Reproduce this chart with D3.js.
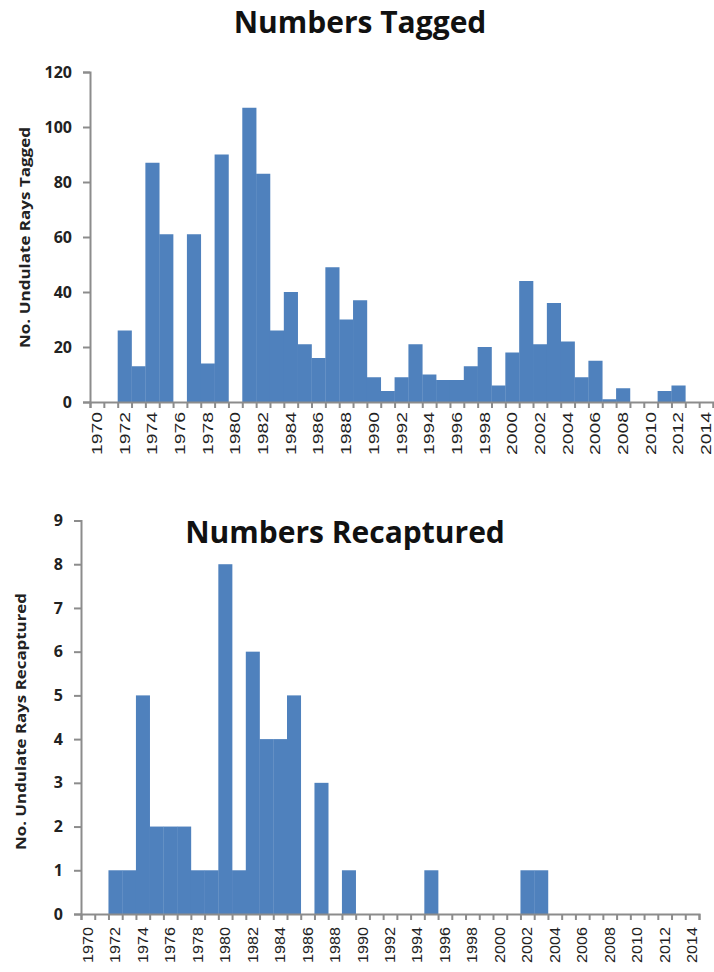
<!DOCTYPE html>
<html>
<head>
<meta charset="utf-8">
<script src="https://cdn.jsdelivr.net/npm/d3@7"></script>
<style>
  body { margin: 0; background: #fff; }
  svg { display: block; }
</style>
</head>
<body>
<div id="chart"></div>
<script>
// Data
const years = [1970, 1971, 1972, 1973, 1974, 1975, 1976, 1977, 1978, 1979,
               1980, 1981, 1982, 1983, 1984, 1985, 1986, 1987, 1988, 1989,
               1990, 1991, 1992, 1993, 1994, 1995, 1996, 1997, 1998, 1999,
               2000, 2001, 2002, 2003, 2004, 2005, 2006, 2007, 2008, 2009,
               2010, 2011, 2012, 2013, 2014];
const yearLabels = [1970, 1972, 1974, 1976, 1978, 1980, 1982, 1984, 1986, 1988, 1990,
                    1992, 1994, 1996, 1998, 2000, 2002, 2004, 2006, 2008, 2010, 2012, 2014];

const tagged = [0, 0, 26, 13, 87, 61, 0, 61, 14, 90,
                0, 107, 83, 26, 40, 21, 16, 49, 30, 37,
                9, 4, 9, 21, 10, 8, 8, 13, 20, 6,
                18, 44, 21, 36, 22, 9, 15, 1, 5, 0,
                0, 4, 6, 0, 0];
const recaptured = [0, 0, 1, 1, 5, 2, 2, 2, 1, 1,
                    8, 1, 6, 4, 4, 5, 0, 3, 0, 1,
                    0, 0, 0, 0, 0, 1, 0, 0, 0, 0,
                    0, 0, 1, 1, 0, 0, 0, 0, 0, 0,
                    0, 0, 0, 0, 0];

const taggedTicks = [0, 20, 40, 60, 80, 100, 120];
const recapturedTicks = [0, 1, 2, 3, 4, 5, 6, 7, 8, 9];

const barColor = "#4f81bd";
const axisColor = "#8c8c8c";

const svg = d3.select("#chart")
    .append("svg")
    .attr("width", 714)
    .attr("height", 972);

function drawPanel(p) {
    const g = svg.append("g");

    const x = d3.scaleBand()
        .domain(years)
        .range([p.left, p.right])
        .padding(0);
    // boundaries between categories, for the tick marks
    const xEdge = d3.scaleLinear()
        .domain([0, years.length])
        .range([p.left, p.right]);
    const y = d3.scaleLinear()
        .domain([0, p.max])
        .range([p.bottom, p.top]);

    // bars
    g.append("g")
        .selectAll("rect")
        .data(years.map((yr, i) => ({year: yr, value: p.values[i]})).filter(d => d.value > 0))
        .join("rect")
        .attr("x", d => x(d.year))
        .attr("width", x.bandwidth() + 0.3)
        .attr("y", d => y(d.value))
        .attr("height", d => y(0) - y(d.value))
        .attr("fill", barColor);

    // y axis
    const yAxis = g.append("g")
        .attr("transform", "translate(" + p.left + ",0)")
        .call(d3.axisLeft(y).tickValues(p.ticks).tickSize(7).tickPadding(11));
    yAxis.select(".domain").attr("stroke", axisColor).attr("stroke-width", 2);
    yAxis.selectAll(".tick line").attr("stroke", axisColor).attr("stroke-width", 2);
    yAxis.selectAll(".tick text")
        .attr("font-family", "'Open Sans', sans-serif")
        .attr("font-weight", "bold")
        .attr("font-size", 16)
        .attr("fill", "#222");

    // x axis: ticks on category edges
    const xAxis = g.append("g")
        .attr("transform", "translate(0," + p.bottom + ")")
        .call(d3.axisBottom(xEdge).tickValues(d3.range(years.length + 1)).tickSize(6).tickFormat(""));
    xAxis.select(".domain").attr("stroke", axisColor).attr("stroke-width", 2);
    xAxis.selectAll(".tick line").attr("stroke", axisColor).attr("stroke-width", 2);

    // x labels, centred on the categories, every other year
    g.append("g")
        .selectAll("text")
        .data(yearLabels)
        .join("text")
        .attr("transform", d => "translate(" + (x(d) + x.bandwidth() / 2 + 5) + "," + (p.bottom + p.labelGap) + ") rotate(-90)")
        .attr("text-anchor", "end")
        .attr("font-family", "'Liberation Sans', Arial, sans-serif")
        .attr("font-size", 14)
        .attr("textLength", p.labelLength)
        .attr("lengthAdjust", "spacingAndGlyphs")
        .attr("fill", "#222")
        .text(d => d);

    // y axis title
    g.append("text")
        .attr("transform", "translate(" + p.yTitleX + "," + ((p.yTitleTop + p.yTitleBottom) / 2) + ") rotate(-90)")
        .attr("text-anchor", "middle")
        .attr("font-family", "'Open Sans', sans-serif")
        .attr("font-weight", "bold")
        .attr("font-size", 14)
        .attr("textLength", p.yTitleBottom - p.yTitleTop)
        .attr("lengthAdjust", "spacingAndGlyphs")
        .attr("fill", "#222")
        .text(p.yTitle);

    // chart title
    g.append("text")
        .attr("x", p.titleX)
        .attr("y", p.titleY)
        .attr("text-anchor", "middle")
        .attr("font-family", "'Open Sans', sans-serif")
        .attr("font-weight", "bold")
        .attr("font-size", 30)
        .attr("fill", "#111")
        .text(p.title);
}

drawPanel({
    values: tagged, max: 120, ticks: taggedTicks,
    left: 90, right: 713, top: 72, bottom: 402,
    labelGap: 10, labelLength: 43,
    yTitle: "No. Undulate Rays Tagged", yTitleX: 30, yTitleTop: 127, yTitleBottom: 348,
    title: "Numbers Tagged", titleX: 360, titleY: 33
});

drawPanel({
    values: recaptured, max: 9, ticks: recapturedTicks,
    left: 81, right: 699, top: 520.5, bottom: 914,
    labelGap: 13, labelLength: 36,
    yTitle: "No. Undulate Rays Recaptured", yTitleX: 26, yTitleTop: 593, yTitleBottom: 850,
    title: "Numbers Recaptured", titleX: 345, titleY: 543
});
</script>
</body>
</html>
